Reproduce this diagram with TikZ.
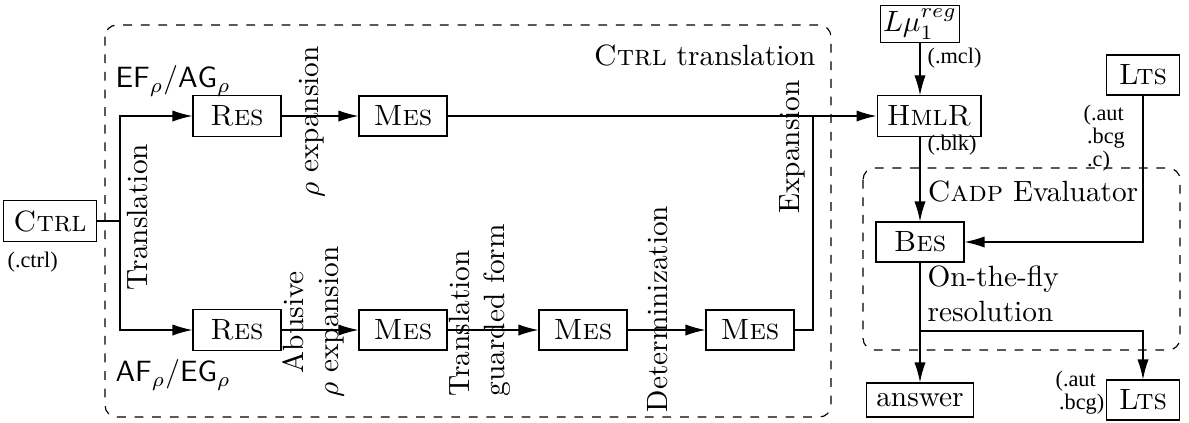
\documentclass[tikz,border=0pt]{standalone}
\usepackage{fontspec}
\newfontfamily\tmfont{Liberation Serif}
\usetikzlibrary{arrows.meta}
\tikzset{
	blk/.style={draw, minimum height=11.6pt, minimum width=30pt},
	lbl/.style={inner sep=0pt},
	ext/.style={inner sep=0pt, font=\tmfont\fontsize{7.6}{6.6}\selectfont},
	arr/.style={-{Latex[length=6.8pt,width=3.8pt]}},
	zone/.style={dashed, rounded corners=4pt},
}
\begin{document}
\begin{tikzpicture}[x=0.341pt, y=-0.341pt]
			%%%%% START %%%%%
			\useasboundingbox (0,0) rectangle (1189,422);
			
			\node[blk] (ctrl) at (50,221) {\textsc{Ctrl}};
			\node[ext, anchor=west] (ctrlx) at (7,262) {(.ctrl)};
			
			\draw[zone] (105,25) rectangle (831,417);
			\node[lbl, anchor=east] (ctrlt) at (816,55) {\textsc{Ctrl} translation};
			\node[lbl, anchor=west] (ef) at (115,81) {$\mathsf{EF}_\rho/\mathsf{AG}_\rho$};
			\node[lbl, anchor=west] (af) at (115,375) {$\mathsf{AF}_\rho/\mathsf{EG}_\rho$};
			
			\node[blk] (res1) at (237,116) {\textsc{Res}};
			\node[blk] (mes1) at (403,116) {\textsc{Mes}};
			\node[blk] (res2) at (237,330) {\textsc{Res}};
			\node[blk] (mes2) at (403,330) {\textsc{Mes}};
			\node[blk] (mes3) at (583,330) {\textsc{Mes}};
			\node[blk] (mes4) at (750,330) {\textsc{Mes}};
			\coordinate (fork) at (120,221);
			\coordinate (join) at (813,116);
			
			\node[lbl, rotate=90] (tr) at (137,217) {Translation};
			\node[lbl, rotate=90] (rx) at (312,122) {$\rho$ expansion};
			\node[lbl, rotate=90, align=center] (ab) at (313,322) {Abusive\\$\rho$ expansion};
			\node[lbl, rotate=90, anchor=west, align=left] (tg) at (480,397) {Translation\\guarded form};
			\node[lbl, rotate=90] (det) at (658,309) {Determinization};
			\node[lbl, rotate=90] (exp) at (792,147) {Expansion};
			
			\node[blk, minimum width=0pt, minimum height=0pt, inner sep=1pt] (lmu) at (920,24) {$L\mu_1^{reg}$};
			\node[blk] (hmlr) at (929,116) {\textsc{HmlR}};
			\node[ext, anchor=west] (mcl) at (927,58) {(.mcl)};
			\node[ext, anchor=west] (blkx) at (927,145) {(.blk)};
			\node[blk, minimum width=25pt] (lts1) at (1143,75) {\textsc{Lts}};
			\node[ext, anchor=north west, align=left] (autc) at (1083,104) {(.aut\\\hspace{1.2pt}.bcg\\\hspace{1.2pt}.c)};
			
			\draw[zone] (863,168) rectangle (1180,350);
			\node[lbl, anchor=west] (cadp) at (927,191) {\textsc{Cadp} Evaluator};
			\node[blk] (bes) at (920,242) {\textsc{Bes}};
			\node[lbl, anchor=west, align=left] (otf) at (927,294) {On-the-fly\\resolution};
			\coordinate (split) at (920,331);
			\node[blk] (ans) at (920,400) {answer};
			\node[blk, minimum width=25pt] (lts2) at (1143,400) {\textsc{Lts}};
			\node[ext, anchor=north west, align=left] (autb) at (1055,370) {(.aut\\\hspace{1.2pt}.bcg)};
			
			% connectors
			\draw (ctrl) -- (fork);
			\draw[arr] (fork) |- (res1);
			\draw[arr] (fork) |- (res2);
			\draw[arr] (res1) -- (mes1);
			\draw[arr] (res2) -- (mes2);
			\draw[arr] (mes2) -- (mes3);
			\draw[arr] (mes3) -- (mes4);
			\draw (mes4) -| (join);
			\draw[arr] (mes1) -- (hmlr);
			\draw[arr] (lmu) -- (lmu |- hmlr.north);
			\draw[arr] (bes |- hmlr.south) -- (bes);
			\draw[arr] (lts1) |- (bes);
			\draw[arr] (bes) -- (ans);
			\draw[arr] (split) -| (lts2);
			
			%%%%% END %%%%%
\end{tikzpicture}
\end{document}
